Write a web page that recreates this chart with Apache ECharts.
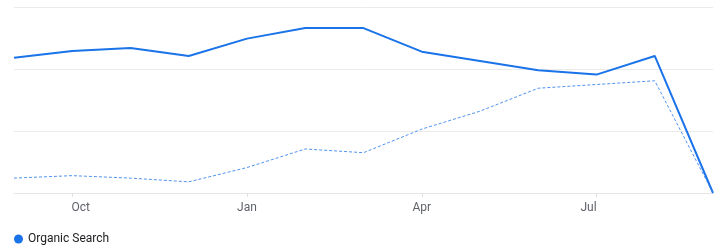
<!DOCTYPE html>
<html>
<head>
<meta charset="utf-8">
<script src="https://cdn.jsdelivr.net/npm/echarts@6/dist/echarts.min.js"></script>
<style>html,body{margin:0;padding:0;background:#fff;}#c{width:723px;height:251px;}</style>
</head>
<body>
<div id="c"></div>
<script>
var categories = ['Sep','Oct','Nov','Dec','Jan','Feb','Mar','Apr','May','Jun','Jul','Aug','Sep '];
var organicSearch = [2.18, 2.29, 2.34, 2.21, 2.49, 2.66, 2.66, 2.28, 2.13, 1.98, 1.91, 2.21, 0];
var previousPeriod = [0.24, 0.28, 0.24, 0.18, 0.41, 0.71, 0.65, 1.03, 1.32, 1.69, 1.75, 1.81, 0];
var labelIndices = [1, 4, 7, 10];

var chart = echarts.init(document.getElementById('c'), null, {renderer: 'canvas'});
chart.setOption({
  animation: false,
  grid: {left: 14, right: 10, top: 7, bottom: 58},
  legend: {
    data: ['Organic Search'],
    left: 14, top: 233, padding: 0,
    icon: 'circle', itemWidth: 9, itemHeight: 9, itemGap: 10,
    textStyle: {fontFamily: 'Roboto', fontSize: 12, color: '#202124'}
  },
  xAxis: {
    type: 'category',
    data: categories,
    boundaryGap: false,
    axisLine: {show: true, lineStyle: {color: '#e6e6e6'}},
    axisTick: {show: true, alignWithLabel: true, length: 4, lineStyle: {color: '#e0e0e0'},
      interval: function (i) { return labelIndices.indexOf(i) >= 0; }},
    axisLabel: {
      interval: function (i) { return labelIndices.indexOf(i) >= 0; },
      formatter: function (v, i) {
        if (i === labelIndices[0]) return '{r|' + v + '}';
        if (i === labelIndices[labelIndices.length - 1]) return '{l|' + v + '}';
        return '{c|' + v + '}';
      },
      rich: {
        r: {fontFamily: 'Roboto', fontSize: 12, color: '#5f6368', padding: [0, 0, 0, 17]},
        l: {fontFamily: 'Roboto', fontSize: 12, color: '#5f6368', padding: [0, 16, 0, 0]},
        c: {fontFamily: 'Roboto', fontSize: 12, color: '#5f6368'}
      },
      fontFamily: 'Roboto', fontSize: 12, color: '#5f6368', margin: 9
    }
  },
  yAxis: {
    type: 'value', min: 0, max: 3, interval: 1,
    axisLabel: {show: false},
    axisLine: {show: false}, axisTick: {show: false},
    splitLine: {lineStyle: {color: '#ebebeb'}}
  },
  series: [
    {
      name: 'Organic Search', type: 'line', data: organicSearch,
      symbol: 'none', color: '#1a73e8',
      lineStyle: {width: 2, color: '#1a73e8'}
    },
    {
      name: 'Previous', type: 'line', data: previousPeriod,
      symbol: 'none', color: '#5e9cf0',
      lineStyle: {width: 1, color: '#3d86ee', type: [3, 2], opacity: 0.9}
    }
  ]
});
</script>
</body>
</html>
